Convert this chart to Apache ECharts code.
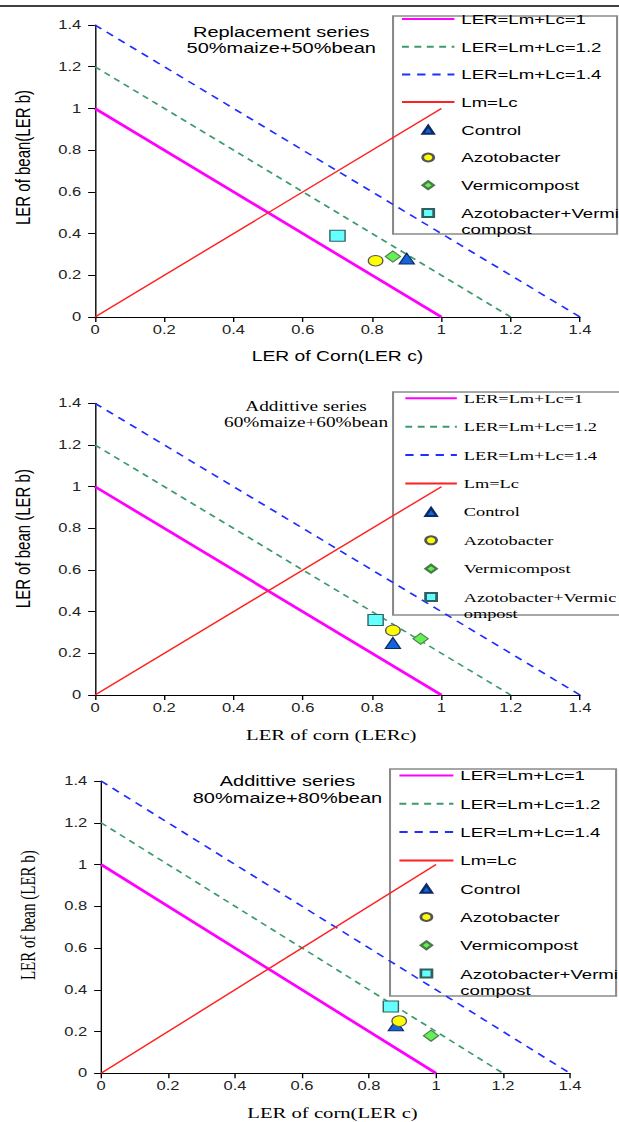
<!DOCTYPE html>
<html><head><meta charset="utf-8">
<script src="https://cdn.jsdelivr.net/npm/echarts@6/dist/echarts.min.js"></script>
<style>
html,body{margin:0;padding:0;background:#fff;overflow:hidden;width:619px;height:1122px;}
#chart{width:449px;height:1122px;transform:scaleX(1.378619);transform-origin:0 0;}
</style></head><body><div id="chart"></div>
<script>
// ---------- data ----------
const axisMin = 0, axisMax = 1.4, axisStep = 0.2;
const panelTitles = ['Replacement series\n50%maize+50%bean', 'Addittive series\n60%maize+60%bean', 'Addittive series\n80%maize+80%bean'];
const xNames = ['LER of Corn(LER c)', 'LER of corn (LERc)', 'LER of corn(LER c)'];
const yNames = ['LER of bean(LER b)', 'LER of bean (LER b)', 'LER of bean (LER b)'];
const lineNames = ['LER=Lm+Lc=1', 'LER=Lm+Lc=1.2', 'LER=Lm+Lc=1.4', 'Lm=Lc'];
const pointNames = ['Control', 'Azotobacter', 'Vermicompost', 'Azotobacter+Vermicompost'];
const ler1 = [[0, 1], [1, 0]];
const ler12 = [[0, 1.2], [1.2, 0]];
const ler14 = [[0, 1.4], [1.4, 0]];
const lmEqLc = [[0, 0], [1, 1]];
// one point per panel: [LER corn, LER bean]
const control = [[0.90, 0.28], [0.86, 0.25], [0.88, 0.23]];
const azotobacter = [[0.81, 0.27], [0.86, 0.31], [0.89, 0.25]];
const vermicompost = [[0.86, 0.29], [0.94, 0.27], [0.985, 0.18]];
const azotoVermi = [[0.70, 0.39], [0.81, 0.36], [0.865, 0.32]];

// ---------- layout / style ----------
const SANS = 'Liberation Sans', SERIF = 'Liberation Serif';
const P = [
  { grid: [68.9, 25, 351.8, 292], title: { x: 204, y: 24, lh: 16, font: SANS, size: 14.5 },
    legend: { left: 290.6, top: 11, iw: 38, gap: 11.7, font: SANS, size: 13.5, brk: 'Vermi' },
    box: [285.1, 16, 162.5, 218],
    xname: { font: SANS, size: 14, gap: 32, pad: [0, 0, 0, 0] },
    yname: { font: SANS, size: 15, gap: 44.7, pad: [0, 0, 0, 27] } },
  { grid: [68.9, 403.3, 351.8, 291.7], title: { x: 222, y: 397.7, lh: 16.7, font: SERIF, size: 14 },
    legend: { left: 293, top: 390.3, iw: 37.4, gap: 12.4, font: SERIF, size: 13.3, brk: 'Vermic' },
    box: [285.1, 392, 200, 223],
    xname: { font: SERIF, size: 15, gap: 32.5, pad: [0, 9, 0, 0] },
    yname: { font: SANS, size: 15, gap: 44.7, pad: [0, 0, 0, 21] } },
  { grid: [73.3, 781, 340.2, 292.3], title: { x: 208.5, y: 772, lh: 17.6, font: SANS, size: 14.5 },
    legend: { left: 288.7, top: 767.5, iw: 39.2, gap: 12.3, font: SANS, size: 13.5, brk: 'Vermi' },
    box: [282.9, 769, 164, 227],
    xname: { font: SERIF, size: 15, gap: 32.5, pad: [0, 4.4, 0, 0] },
    yname: { font: SERIF, size: 15, gap: 45.5, pad: [0, 0, 0, 24] } }
];

const lineStyles = [
  { color: '#ff00ff', width: 2.5, type: 'solid' },
  { color: '#3c9a6c', width: 1.5, type: [5, 4] },
  { color: '#1f2fff', width: 1.5, type: [6, 5] },
  { color: '#ff2020', width: 1.3, type: 'solid' }
];
const markerStyles = [
  { symbol: 'triangle', size: 11, color: '#1565d8', border: '#0b2a66' },
  { symbol: 'circle', size: 10.5, color: '#ffff00', border: '#555555' },
  { symbol: 'diamond', size: 11, color: '#66ee55', border: '#4a7a4a' },
  { symbol: 'rect', size: 11, color: '#66ffff', border: '#2f5f5f' }
];
const LH = 16, ICON = 8;

const grids = [], xAxes = [], yAxes = [], titles = [], legends = [], series = [], graphics = [];
P.forEach((p, i) => {
  grids.push({ left: p.grid[0], top: p.grid[1], width: p.grid[2], height: p.grid[3], containLabel: false, outerBoundsMode: 'none' });
  const common = {
    type: 'value', gridIndex: i, min: axisMin, max: axisMax, interval: axisStep,
    splitLine: { show: false },
    axisLine: { show: true, lineStyle: { color: '#000', width: 1 } },
    axisTick: { show: true, length: 5, lineStyle: { color: '#000', width: 1 } },
    nameLocation: 'middle'
  };
  xAxes.push(Object.assign({}, common, {
    name: xNames[i], nameGap: p.xname.gap,
    nameTextStyle: { fontFamily: p.xname.font, fontSize: p.xname.size, color: '#000', padding: p.xname.pad },
    axisLabel: { fontFamily: SANS, fontSize: 12, color: '#222', margin: 7 }
  }));
  yAxes.push(Object.assign({}, common, {
    name: yNames[i], nameGap: p.yname.gap,
    nameTextStyle: { fontFamily: p.yname.font, fontSize: p.yname.size, color: '#000', padding: p.yname.pad },
    axisLabel: { fontFamily: SANS, fontSize: 12, color: '#222', margin: 10 }
  }));
  titles.push({
    text: panelTitles[i], left: p.title.x, top: p.title.y, textAlign: 'center', padding: 0,
    textStyle: { fontFamily: p.title.font, fontSize: p.title.size, fontWeight: 'normal', color: '#000', lineHeight: p.title.lh }
  });
  const lg = p.legend;
  const step = LH + lg.gap;
  const firstCenter = lg.top + LH / 2;
  const textStyle = { fontFamily: lg.font, fontSize: lg.size, color: '#000', lineHeight: LH };
  // legend for the reference lines
  legends.push({
    orient: 'vertical', left: lg.left, top: lg.top, padding: 0,
    itemWidth: lg.iw, itemHeight: ICON, itemGap: lg.gap, selectedMode: false,
    textStyle: textStyle,
    data: lineNames.map(n => ({ name: n, itemStyle: { color: 'rgba(0,0,0,0)', borderColor: 'rgba(0,0,0,0)', opacity: 0 } }))
  });
  // legend for the treatment markers (small icon box, centred under the line samples)
  const shift = (lg.iw - ICON) / 2;
  legends.push({
    orient: 'vertical', left: lg.left + shift, top: lg.top + 4 * step, padding: 0,
    itemWidth: ICON, itemHeight: ICON, itemGap: lg.gap, selectedMode: false,
    textStyle: Object.assign({}, textStyle, { padding: [0, 0, 0, shift] }),
    data: pointNames.slice(0, 3).map((n, k) => ({ name: n, icon: markerStyles[k].symbol }))
  });
  // last marker item: two-line label whose first line sits level with the icon
  legends.push({
    orient: 'vertical', left: lg.left + shift, top: firstCenter + 7 * step - 1.5 * LH, padding: 0,
    itemWidth: ICON, itemHeight: ICON, selectedMode: false,
    textStyle: Object.assign({}, textStyle, { padding: [0, 0, 0, shift] }),
    data: [{ name: pointNames[3], icon: markerStyles[3].symbol }],
    formatter: n => '\n' + n.replace(lg.brk, lg.brk + '\n')
  });
  [ler1, ler12, ler14, lmEqLc].forEach((d, k) => {
    series.push({
      type: 'line', name: lineNames[k], xAxisIndex: i, yAxisIndex: i, data: d,
      symbol: 'none', silent: true, z: 2,
      lineStyle: lineStyles[k], itemStyle: { color: lineStyles[k].color }
    });
  });
  [control, azotobacter, vermicompost, azotoVermi].forEach((d, k) => {
    const m = markerStyles[k];
    series.push({
      type: 'scatter', name: pointNames[k], xAxisIndex: i, yAxisIndex: i, data: [d[i]],
      symbol: m.symbol, symbolSize: m.size, z: 4 + k,
      itemStyle: { color: m.color, borderColor: m.border, borderWidth: 1, opacity: 1 }
    });
  });
  graphics.push({
    type: 'rect', shape: { x: p.box[0], y: p.box[1], width: p.box[2], height: p.box[3] },
    style: { fill: 'none', stroke: '#8a8a8a', lineWidth: 1.5 }, silent: true, z: 1
  });
});
graphics.push({ type: 'line', shape: { x1: 0, y1: 6, x2: 449, y2: 6 }, style: { stroke: '#000', lineWidth: 1.5 }, silent: true });

const chart = echarts.init(document.getElementById('chart'), null, { renderer: 'svg' });
chart.setOption({
  animation: false,
  backgroundColor: '#fff',
  title: titles,
  legend: legends,
  grid: grids,
  xAxis: xAxes,
  yAxis: yAxes,
  series: series,
  graphic: graphics
});
</script></body></html>
